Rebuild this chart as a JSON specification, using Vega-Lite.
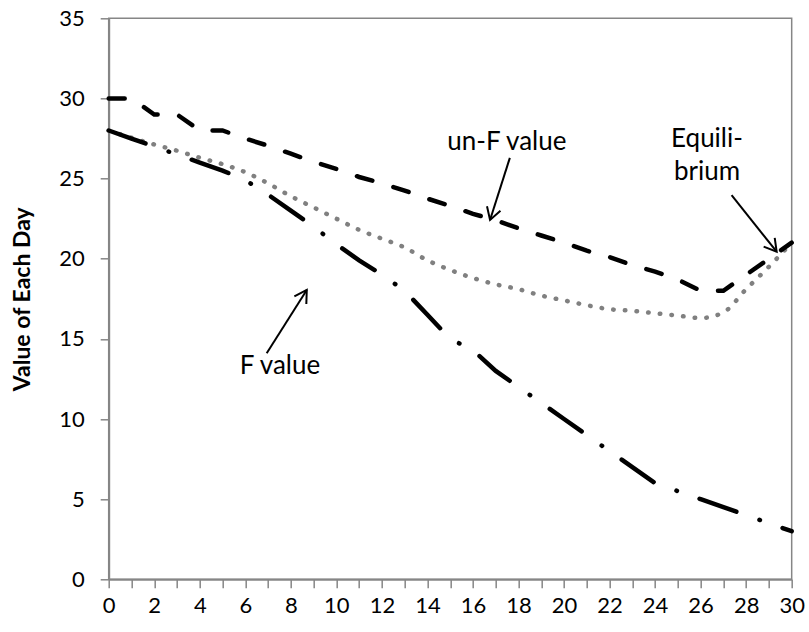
{
  "$schema": "https://vega.github.io/schema/vega-lite/v6.json",
  "width": 683,
  "height": 561,
  "autosize": "none",
  "padding": {"left": 108.7, "top": 18.3, "right": 17, "bottom": 52},
  "config": {
    "font": "Lato",
    "view": {"stroke": "#868686", "strokeWidth": 1.5},
    "axis": {
      "domainColor": "#868686", "domainWidth": 2, "tickColor": "#868686", "tickWidth": 1.5,
      "tickSize": 8.5, "grid": false, "labelColor": "#000000", "titleColor": "#000000"
    }
  },
  "datasets": {
    "unf": [
      {"day": 0, "v": 30}, {"day": 1, "v": 30}, {"day": 2, "v": 29}, {"day": 3, "v": 29},
      {"day": 4, "v": 28}, {"day": 5, "v": 28}, {"day": 6, "v": 27.5}, {"day": 7, "v": 27.05},
      {"day": 8, "v": 26.55}, {"day": 9, "v": 26.05}, {"day": 10, "v": 25.6}, {"day": 11, "v": 25.1},
      {"day": 12, "v": 24.7}, {"day": 13, "v": 24.25}, {"day": 14, "v": 23.75}, {"day": 15, "v": 23.3},
      {"day": 16, "v": 22.8}, {"day": 17, "v": 22.4}, {"day": 18, "v": 21.9}, {"day": 19, "v": 21.45},
      {"day": 20, "v": 21.0}, {"day": 21, "v": 20.5}, {"day": 22, "v": 20.1}, {"day": 23, "v": 19.6},
      {"day": 24, "v": 19.2}, {"day": 25, "v": 18.7}, {"day": 26, "v": 18}, {"day": 27, "v": 18},
      {"day": 28, "v": 19}, {"day": 29, "v": 20}, {"day": 30, "v": 21}
    ],
    "f": [
      {"day": 0, "v": 28}, {"day": 1, "v": 27.5}, {"day": 2, "v": 27}, {"day": 3, "v": 26.5},
      {"day": 4, "v": 26}, {"day": 5, "v": 25.5}, {"day": 6, "v": 24.9}, {"day": 7, "v": 24},
      {"day": 8, "v": 23}, {"day": 9, "v": 22}, {"day": 10, "v": 20.9}, {"day": 11, "v": 19.9},
      {"day": 12, "v": 19}, {"day": 13, "v": 18}, {"day": 14, "v": 16.5}, {"day": 15, "v": 15},
      {"day": 16, "v": 14.3}, {"day": 17, "v": 13}, {"day": 18, "v": 12}, {"day": 19, "v": 11},
      {"day": 20, "v": 10}, {"day": 21, "v": 9}, {"day": 22, "v": 8}, {"day": 23, "v": 7},
      {"day": 24, "v": 6}, {"day": 25, "v": 5.5}, {"day": 26, "v": 5}, {"day": 27, "v": 4.5},
      {"day": 28, "v": 4}, {"day": 29, "v": 3.5}, {"day": 30, "v": 3}
    ],
    "eq": [
      {"day": 0, "v": 28}, {"day": 1, "v": 27.55}, {"day": 2, "v": 27.13}, {"day": 3, "v": 26.74},
      {"day": 4, "v": 26.3}, {"day": 5, "v": 25.9}, {"day": 6, "v": 25.4}, {"day": 7, "v": 24.7},
      {"day": 8, "v": 23.9}, {"day": 9, "v": 23.2}, {"day": 10, "v": 22.5}, {"day": 11, "v": 21.8},
      {"day": 12, "v": 21.25}, {"day": 13, "v": 20.7}, {"day": 14, "v": 19.9}, {"day": 15, "v": 19.3},
      {"day": 16, "v": 18.8}, {"day": 17, "v": 18.4}, {"day": 18, "v": 18.1}, {"day": 19, "v": 17.7},
      {"day": 20, "v": 17.4}, {"day": 21, "v": 17.1}, {"day": 22, "v": 16.85}, {"day": 23, "v": 16.75},
      {"day": 24, "v": 16.6}, {"day": 25, "v": 16.45}, {"day": 26, "v": 16.3}, {"day": 27, "v": 16.65},
      {"day": 28, "v": 18.1}, {"day": 29, "v": 19.5}, {"day": 30, "v": 21}
    ],
    "labels": [
      {"x": 17.49, "y": 27.28, "text": "un-F value"},
      {"x": 26.28, "y": 27.5, "text": "Equili-"},
      {"x": 26.28, "y": 25.38, "text": "brium"},
      {"x": 7.52, "y": 13.31, "text": "F value"}
    ],
    "arrows": [
      {"x1": 17.62, "y1": 26.29, "x2": 16.75, "y2": 22.42, "ang": 197.9},
      {"x1": 27.36, "y1": 23.97, "x2": 29.34, "y2": 20.44, "ang": 141.5},
      {"x1": 6.94, "y1": 14.1, "x2": 8.7, "y2": 18.05, "ang": 32.3}
    ]
  },
  "encoding": {
    "x": {
      "field": "day", "type": "quantitative",
      "scale": {"domain": [0, 30], "nice": false, "zero": false},
      "axis": {
        "title": null,
        "values": [0,1,2,3,4,5,6,7,8,9,10,11,12,13,14,15,16,17,18,19,20,21,22,23,24,25,26,27,28,29,30],
        "labelExpr": "datum.value % 2 === 0 ? datum.label : ''",
        "labelFont": "Lato", "labelFontSize": 22,
        "labelPadding": 8, "labelOverlap": false, "labelFlush": false
      }
    },
    "y": {
      "field": "v", "type": "quantitative",
      "scale": {"domain": [0, 35], "nice": false},
      "axis": {
        "title": "Value of Each Day", "values": [0,5,10,15,20,25,30,35],
        "labelFont": "Lato", "labelFontSize": 22,
        "labelPadding": 16, "titleFont": "Lato", "titleFontSize": 23, "titleFontWeight": "bold",
        "titleAngle": -90, "titleX": -86, "titleY": 280.5, "titleAlign": "center", "titleBaseline": "middle"
      }
    }
  },
  "layer": [
    {
      "data": {"name": "eq"},
      "mark": {"type": "line", "color": "#808080", "strokeWidth": 4.5, "strokeCap": "round", "strokeDash": [0.5, 11.2], "interpolate": "monotone"}
    },
    {
      "data": {"name": "f"},
      "mark": {"type": "line", "color": "#000000", "strokeWidth": 4.5, "strokeCap": "round", "strokeDash": [39, 24.5, 0.5, 24]}
    },
    {
      "data": {"name": "unf"},
      "mark": {"type": "line", "color": "#000000", "strokeWidth": 4.5, "strokeCap": "round", "strokeDash": [16, 22]}
    },
    {
      "data": {"name": "arrows"},
      "mark": {"type": "rule", "color": "#000000", "strokeWidth": 2},
      "encoding": {
        "x": {"field": "x1", "type": "quantitative"},
        "y": {"field": "y1", "type": "quantitative"},
        "x2": {"field": "x2"},
        "y2": {"field": "y2"}
      }
    },
    {
      "data": {"name": "arrows"},
      "mark": {"type": "point", "shape": "M-0.5,0.85L0,0L0.5,0.85", "filled": false, "color": "#000000", "strokeWidth": 2, "size": 800, "opacity": 1},
      "encoding": {
        "x": {"field": "x2", "type": "quantitative"},
        "y": {"field": "y2", "type": "quantitative"},
        "angle": {"field": "ang", "type": "quantitative", "scale": null}
      }
    },
    {
      "data": {"name": "labels"},
      "mark": {"type": "text", "fontSize": 26, "font": "Lato", "color": "#000000", "align": "center", "baseline": "middle"},
      "encoding": {
        "x": {"field": "x", "type": "quantitative"},
        "y": {"field": "y", "type": "quantitative"},
        "text": {"field": "text"}
      }
    }
  ]
}
